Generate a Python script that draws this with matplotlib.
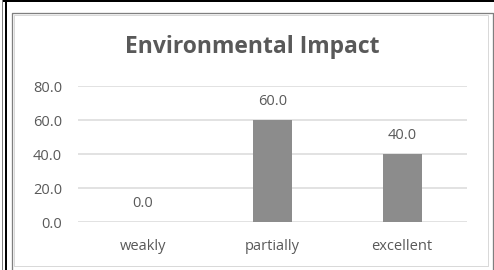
import matplotlib.pyplot as plt
from matplotlib.lines import Line2D

# data
categories = ['weakly', 'partially', 'excellent']
values = [0.0, 60.0, 40.0]
yticks = [0, 20, 40, 60, 80]

txt = '#595959'
plt.rcParams['font.family'] = ['Open Sans', 'DejaVu Sans']

fig = plt.figure(figsize=(4.94, 2.70), dpi=100)

# frame lines drawn in pixel coords on a background axes
bg = fig.add_axes([0, 0, 1, 1], zorder=-1)
bg.set_xlim(0, 494)
bg.set_ylim(270, 0)
bg.axis('off')
px = 0.72
bg.add_line(Line2D([4, 494], [1, 1], color='black', lw=2 * px))
bg.add_line(Line2D([1.5, 1.5], [0, 270], color='#808080', lw=1 * px))
bg.add_line(Line2D([5.5, 5.5], [0, 270], color='black', lw=2 * px))
bg.add_line(Line2D([11.5, 11.5, 492.5, 492.5], [270, 12.5, 12.5, 270], color='#7f7f7f', lw=1.3 * px))
bg.add_line(Line2D([13.5, 13.5, 487.5, 487.5, 13.5], [265.5, 14.5, 14.5, 265.5, 265.5], color='#d9d9d9', lw=1 * px))

ax = fig.add_axes([78 / 494, 48 / 270, 389 / 494, 136 / 270])
x = range(len(categories))
bars = ax.bar(x, values, width=0.3, color='#8c8c8c', zorder=3)
ax.set_xlim(-0.5, 2.5)
ax.set_ylim(0, 80)
ax.set_yticks(yticks)
ax.set_yticklabels([f'{v:.1f}' for v in yticks])
ax.set_xticks(list(x))
ax.set_xticklabels(categories)
ax.grid(axis='y', color='#d9d9d9', lw=1.5 * px, zorder=0)
for s in ax.spines.values():
    s.set_visible(False)
ax.tick_params(axis='both', length=0, colors=txt, labelsize=10.5)
ax.tick_params(axis='y', pad=11.5)
ax.tick_params(axis='x', pad=12.5)

for b, v in zip(bars, values):
    ax.annotate(f'{v:.1f}', (b.get_x() + b.get_width() / 2, v),
                xytext=(0, 13), textcoords='offset points',
                ha='center', va='center', color=txt, fontsize=10.5)

fig.text(252 / 494, 1 - 47 / 270, 'Environmental Impact', ha='center', va='center',
         color=txt, fontsize=16.5, fontweight='bold')

fig.savefig('out.png', dpi=100)
